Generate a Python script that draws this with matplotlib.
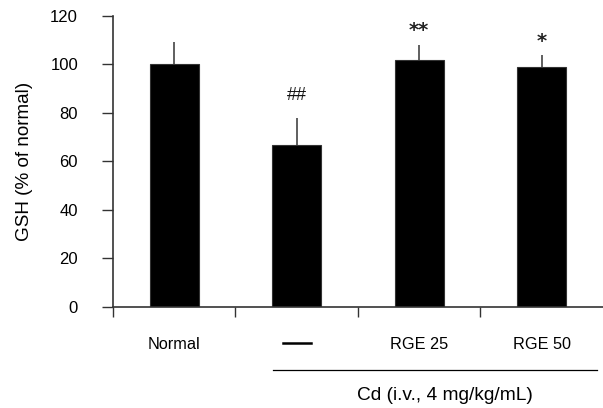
import matplotlib
matplotlib.use("Agg")
import matplotlib.pyplot as plt
from matplotlib.transforms import blended_transform_factory

plt.rcParams['font.family'] = ['Liberation Sans', 'DejaVu Sans']

groups = ['Normal', '', 'RGE 25', 'RGE 50']
gsh = [100.0, 66.8, 101.5, 98.8]
sd = [9.2, 11.1, 6.2, 4.8]
marks = ['', '##', '**', '*']
mark_y = [0, 87, 114.5, 110.0]

fig = plt.figure(figsize=(6.03, 4.08), dpi=100)
ax = fig.add_axes([0.187, 0.2475, 0.813, 0.7145])

x = list(range(len(groups)))
ax.bar(x, gsh, width=0.4, color='black', edgecolor='#333333', linewidth=0.8, zorder=2)
ax.errorbar(x, gsh, yerr=[[0] * len(sd), sd], fmt='none', ecolor='#444444',
            elinewidth=1.2, capsize=0, zorder=1)

for xi, m, my in zip(x, marks, mark_y):
    if not m:
        continue
    if '*' in m:
        ax.text(xi, my, m, ha='center', va='center_baseline', fontsize=14,
                family='DejaVu Sans', fontweight='bold', color='#222222')
    else:
        ax.text(xi, my, m, ha='center', va='center', fontsize=13, color='#111111')

ax.set_xlim(-0.5, 3.5)
ax.set_ylim(0, 120)
ax.set_yticks(range(0, 121, 20))
ax.set_xticks([-0.5, 0.5, 1.5, 2.5])
ax.set_xticklabels([])
ax.tick_params(axis='y', direction='out', length=8, width=1, colors='#333333',
               labelcolor='black', labelsize=12, pad=17)
ax.tick_params(axis='x', direction='out', length=7, width=1, colors='#333333')
for s in ['top', 'right']:
    ax.spines[s].set_visible(False)
for s in ['left', 'bottom']:
    ax.spines[s].set_color('#333333')
    ax.spines[s].set_linewidth(1.2)

ax.set_ylabel('GSH (% of normal)', fontsize=13.6)
ax.yaxis.set_label_coords(-0.163, 0.5)

tr = blended_transform_factory(ax.transData, ax.transAxes)
for xi, g in zip(x, groups):
    if g:
        ax.text(xi, -0.127, g, transform=tr, ha='center', va='center', fontsize=11.7)
# dash label for Cd-only group
ax.plot([0.885, 1.115], [-0.123, -0.123], transform=tr, color='black', lw=1.8,
        clip_on=False)
# Cd bracket line
ax.plot([0.806, 3.45], [-0.216, -0.216], transform=tr, color='black', lw=0.9,
        clip_on=False)
ax.text(2.21, -0.302, 'Cd (i.v., 4 mg/kg/mL)', transform=tr, ha='center',
        va='center', fontsize=13.8)

fig.savefig('out.png', dpi=100)
